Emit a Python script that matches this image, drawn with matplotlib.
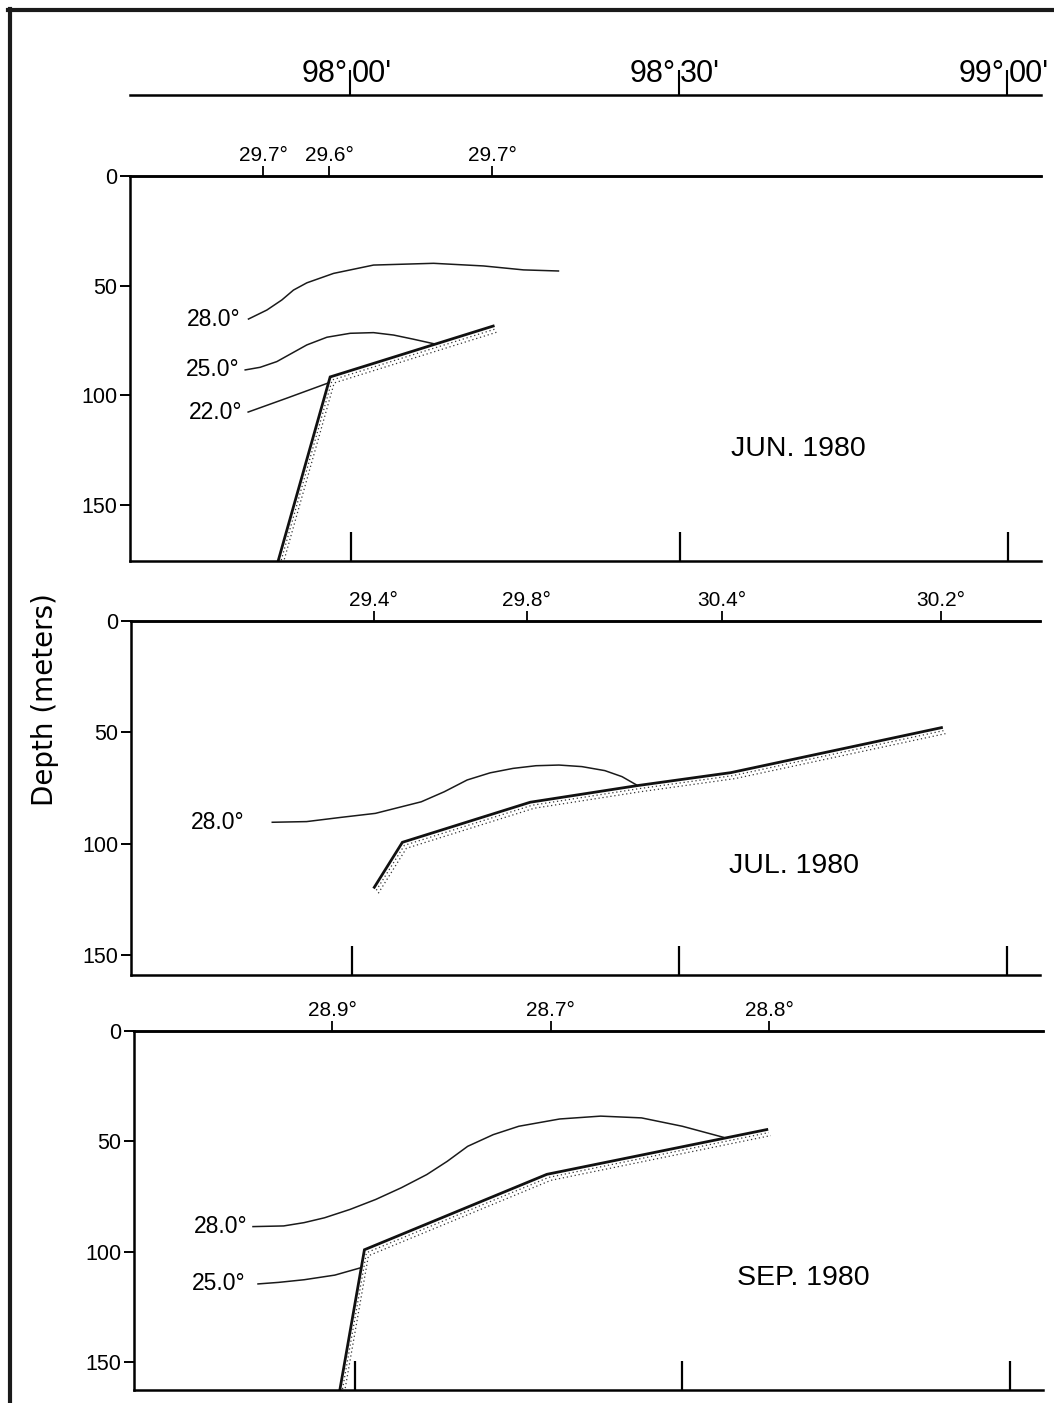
import matplotlib
matplotlib.use("Agg")
import matplotlib.pyplot as plt
from matplotlib.lines import Line2D
from matplotlib.transforms import offset_copy

plt.rcParams['font.family'] = ['Liberation Sans', 'DejaVu Sans']

W, H = 1054, 1403
XLIM = (-20.2, 63.0)   # minutes of longitude east of 98°00'

# longitude scale at the top
lon_ticks = [0, 30, 60]
lon_deg = ["98°", "98°", "99°"]
lon_min = ["00'", "30'", "00'"]

# ---- June 1980 ----
jun_st_x = [-8.04, -2.01, 12.88]
jun_st_lbl = ["29.7°", "29.6°", "29.7°"]
jun_28_x = [-9.38, -7.70, -6.33, -5.27, -4.05, -1.61, 2.04, 7.52, 12.08, 15.74, 18.93]
jun_28_d = [65.2, 61.1, 56.5, 52.0, 48.7, 44.4, 40.6, 39.8, 41.0, 42.8, 43.3]
jun_25_x = [-9.68, -8.31, -6.79, -5.42, -4.05, -2.22, -0.09, 2.04, 3.87, 5.69, 7.67]
jun_25_d = [88.4, 87.2, 84.6, 80.8, 77.0, 73.5, 71.7, 71.4, 72.5, 74.4, 76.6]
jun_22_x = [-9.41, -5.84, -2.07]
jun_22_d = [107.6, 101.2, 94.3]
jun_bed_x = [-6.67, -1.92, 12.97]
jun_bed_d = [175.5, 91.6, 68.4]

# ---- July 1980 ----
jul_st_x = [2.01, 16.0, 33.9, 53.95]
jul_st_lbl = ["29.4°", "29.8°", "30.4°", "30.2°"]
jul_28_x = [-7.27, -4.13, -0.98, 2.17, 4.27, 6.37, 8.47, 10.57, 12.67, 14.77,
            16.87, 18.97, 21.07, 23.17, 24.74, 26.06]
jul_28_d = [90.4, 90.1, 88.2, 86.4, 83.8, 81.2, 76.7, 71.4, 68.2, 66.2,
            65.0, 64.7, 65.4, 67.2, 69.9, 73.6]
jul_bed_x = [2.07, 4.64, 16.34, 26.05, 34.71, 53.98]
jul_bed_d = [119.6, 99.4, 81.4, 74.0, 68.1, 47.9]

# ---- September 1980 ----
sep_st_x = [-2.06, 17.93, 37.95]
sep_st_lbl = ["28.9°", "28.7°", "28.8°"]
sep_28_x = [-9.31, -6.50, -4.63, -2.76, -0.42, 1.92, 4.26, 6.60, 8.47, 10.34,
            12.68, 15.02, 18.76, 22.51, 26.25, 29.99, 33.74]
sep_28_d = [88.7, 88.4, 86.9, 84.7, 80.9, 76.4, 71.1, 65.1, 59.1, 52.3,
            47.0, 43.2, 39.9, 38.6, 39.4, 43.2, 48.2]
sep_25_x = [-8.85, -6.97, -4.63, -1.82, 0.6]
sep_25_d = [114.7, 114.0, 112.8, 110.7, 107.3]
sep_bed_x = [-1.36, 0.89, 17.59, 37.72]
sep_bed_d = [162.8, 99.2, 65.0, 44.7]

panels = [
    dict(box=(130, 176, 1041, 561), ymax=175.5, st_x=jun_st_x, st_lbl=jun_st_lbl,
         iso=[(jun_28_x, jun_28_d, "28.0°", 6), (jun_25_x, jun_25_d, "25.0°", 4),
              (jun_22_x, jun_22_d, "22.0°", 4)],
         bed=(jun_bed_x, jun_bed_d), title="JUN. 1980", tpos=(40.8, 124.4)),
    dict(box=(131, 621, 1040, 975), ymax=159.0, st_x=jul_st_x, st_lbl=jul_st_lbl,
         iso=[(jul_28_x, jul_28_d, "28.0°", 20)],
         bed=(jul_bed_x, jul_bed_d), title="JUL. 1980", tpos=(40.5, 110.0)),
    dict(box=(134, 1031, 1043, 1390), ymax=162.8, st_x=sep_st_x, st_lbl=sep_st_lbl,
         iso=[(sep_28_x, sep_28_d, "28.0°", 4), (sep_25_x, sep_25_d, "25.0°", 9)],
         bed=(sep_bed_x, sep_bed_d), title="SEP. 1980", tpos=(41.1, 112.0)),
]


def axes_px(l, t, r, b):
    return fig.add_axes([l / W, 1 - b / H, (r - l) / W, (b - t) / H])


fig = plt.figure(figsize=(W / 100, H / 100), dpi=100)

# outer frame of the scanned page
fig.add_artist(Line2D([10 / W, 10 / W], [0, 1 - 9 / H], transform=fig.transFigure, color='#1a1a1a', lw=3))
fig.add_artist(Line2D([8 / W, 1], [1 - 10 / H, 1 - 10 / H], transform=fig.transFigure, color='#1a1a1a', lw=3))

# longitude scale
lax = axes_px(130, 40, 1041, 95)
lax.set_xlim(-20.1, 63.1)
lax.set_ylim(0, 1)
for s in ['top', 'left', 'right']:
    lax.spines[s].set_visible(False)
lax.spines['bottom'].set_linewidth(1.8)
lax.set_yticks([])
lax.set_xticks(lon_ticks)
lax.tick_params(axis='x', direction='in', length=18, width=1.5, labelbottom=False)
for x, dg, mn in zip(lon_ticks, lon_deg, lon_min):
    lax.annotate(dg, (x, 0.1), xytext=(-2, 0), textcoords='offset points',
                 ha='right', va='bottom', fontsize=22)
    lax.annotate(mn, (x, 0.1), xytext=(1, 0), textcoords='offset points',
                 ha='left', va='bottom', fontsize=22)

for p in panels:
    ax = axes_px(*p['box'])
    ax.set_xlim(*XLIM)
    ax.set_ylim(p['ymax'], 0)
    ax.spines['right'].set_visible(False)
    for s in ['top', 'left', 'bottom']:
        ax.spines[s].set_linewidth(1.8)
    ax.set_yticks([0, 50, 100, 150])
    ax.tick_params(axis='y', direction='out', length=7, width=1.4, labelsize=15.5, pad=2)
    ax.set_xticks(lon_ticks)
    ax.tick_params(axis='x', direction='in', length=21, width=1.6, labelbottom=False)

    top = ax.secondary_xaxis('top')
    top.set_xticks(p['st_x'], labels=p['st_lbl'])
    top.tick_params(direction='out', length=7, width=1.3, labelsize=15, pad=1)
    top.spines['top'].set_linewidth(1.8)

    for xs, ds, lbl, gap in p['iso']:
        ax.plot(xs, ds, color='#1a1a1a', lw=1.1)
        ax.annotate(lbl, (xs[0], ds[0]), xytext=(-gap, 0), textcoords='offset points',
                    ha='right', va='center', fontsize=16.5)

    bx, bd = p['bed']
    for ox, oy in [(2, -3), (4, -6)]:
        tr = offset_copy(ax.transData, fig=fig, x=ox, y=oy, units='dots')
        ax.plot(bx, bd, color='#333333', lw=0.9, ls=(0, (1, 2.2)), transform=tr)
    ax.plot(bx, bd, color='#111111', lw=2.0, solid_joinstyle='miter')

    ax.text(*p['tpos'], p['title'], ha='center', va='center', fontsize=20.5)

fig.text(45 / W, 1 - 700 / H, "Depth (meters)", rotation=90, ha='center', va='center',
         fontsize=20, family='DejaVu Sans')

fig.savefig("out.png", dpi=100)
